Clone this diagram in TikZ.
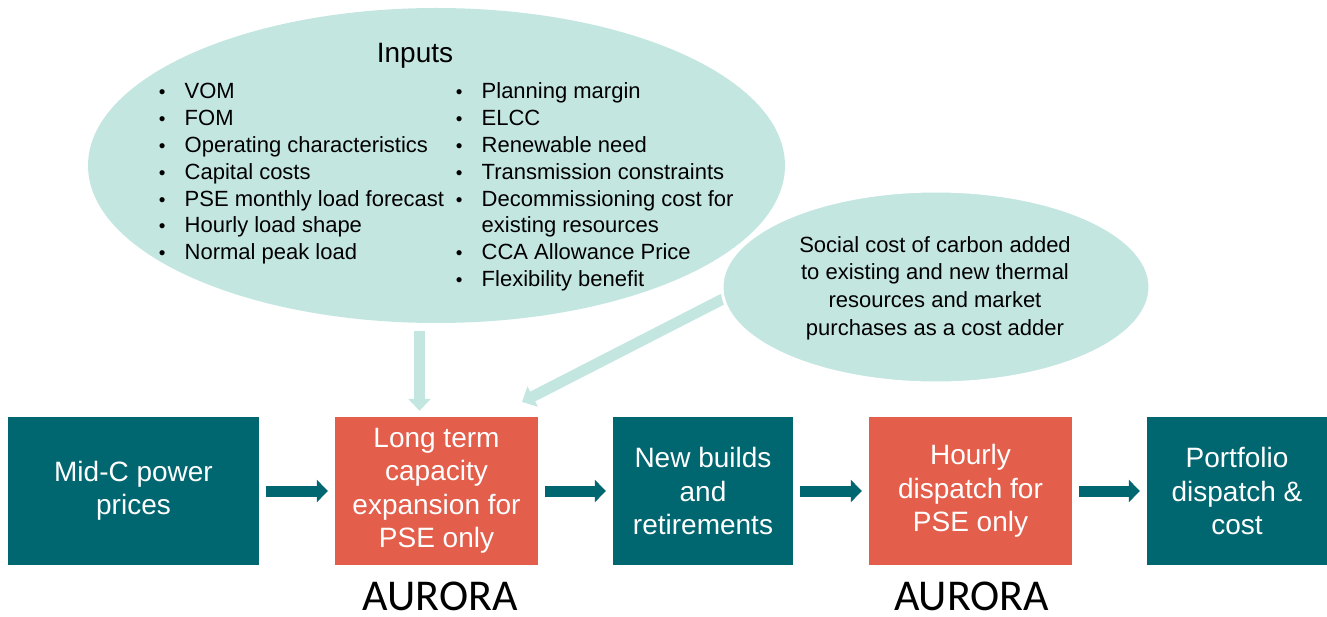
\documentclass[tikz,border=0pt]{standalone}
\usepackage{fontspec}
\setmainfont{Liberation Sans}
\newfontfamily\aurfont{Carlito}
\usetikzlibrary{shapes.geometric,arrows.meta}
\definecolor{lteal}{RGB}{195,230,225}
\definecolor{dteal}{RGB}{0,102,112}
\definecolor{coral}{RGB}{227,94,75}
\newcommand{\bitem}[1]{\makebox[0pt]{\fontsize{19}{19}\selectfont\textbullet}\hspace{22.5pt}#1}
\begin{document}
\begin{tikzpicture}[x=1pt,y=-1pt,
  bubble/.style={ellipse, fill=lteal, inner sep=0pt},
  tealbox/.style={rectangle, fill=dteal, text=white, inner sep=0pt, minimum height=148pt, align=center, font={\fontsize{28}{33.5}\selectfont}},
  coralbox/.style={tealbox, fill=coral},
  flowarrow/.style={draw=dteal, line width=11pt, -{Triangle[width=22pt,length=11pt]}, shorten <=7pt, shorten >=7pt},
  feedarrow/.style={draw=lteal, line width=11pt, -{Triangle[width=22pt,length=12pt]}},
  tool/.style={font={\aurfont\fontsize{44}{44}\selectfont}, anchor=base, inner sep=0pt}
]
\useasboundingbox (0,0) rectangle (1327,617);

% Inputs bubble
\node[bubble, minimum width=697pt, minimum height=315pt] (inputs) at (436.5,165.5) {};

% diagonal arrow from social cost bubble
\coordinate (dstart) at (727.7,296.5);
\coordinate (dend) at (522,402);
\draw[feedarrow] (dstart) -- (dend);

% social cost bubble
\node[bubble, minimum width=428pt, minimum height=192pt, draw=white, line width=3pt] (social) at (936,287) {};

\node[anchor=base, inner sep=0pt, font={\fontsize{28}{33}\selectfont}] (inputstitle) at (415,63) {Inputs};

\node[anchor=base west, inner sep=0pt, font={\fontsize{22}{26.8}\selectfont}] (leftcol) at (162,99) {%
\begin{tabular}[t]{@{}l@{}}
\bitem{VOM}\\
\bitem{FOM}\\
\bitem{Operating characteristics}\\
\bitem{Capital costs}\\
\bitem{PSE monthly load forecast}\\
\bitem{Hourly load shape}\\
\bitem{Normal peak load}
\end{tabular}};

\node[anchor=base west, inner sep=0pt, font={\fontsize{22}{26.8}\selectfont}] (rightcol) at (459,99) {%
\begin{tabular}[t]{@{}l@{}}
\bitem{Planning margin}\\
\bitem{ELCC}\\
\bitem{Renewable need}\\
\bitem{Transmission constraints}\\
\bitem{Decommissioning cost for}\\
\hspace{22.5pt}existing resources\\
\bitem{CCA Allowance Price}\\
\bitem{Flexibility benefit}
\end{tabular}};

\node[align=center, inner sep=0pt, font={\fontsize{22}{27.7}\selectfont}] (socialtext) at (935,288) {Social cost of carbon added\\to existing and new thermal\\resources and market\\purchases as a cost adder};

% process boxes
\node[tealbox, minimum width=251pt] (midc) at (133.5,491) {Mid-C power\\prices};
\node[coralbox, minimum width=203pt] (capexp) at (436.5,491) {Long term\\capacity\\expansion for\\PSE only};
\node[tealbox, minimum width=180pt] (newbuilds) at (703,491) {New builds\\and\\retirements};
\node[coralbox, minimum width=203pt] (hourly) at (970.5,491) {Hourly\\dispatch for\\PSE only};
\node[tealbox, minimum width=180pt] (portfolio) at (1237,491) {Portfolio\\dispatch \&\\cost};

% vertical input arrow
\coordinate (vtop) at (419.5,331);
\draw[feedarrow, shorten >=6pt] (vtop) -- (capexp.north -| vtop);

% flow arrows
\draw[flowarrow] (midc) -- (capexp);
\draw[flowarrow] (capexp) -- (newbuilds);
\draw[flowarrow] (newbuilds) -- (hourly);
\draw[flowarrow] (hourly) -- (portfolio);

% tool labels
\node[tool] (aurora1) at (440,610) {AURORA};
\node[tool] (aurora2) at (971.5,610) {AURORA};
\end{tikzpicture}
\end{document}
